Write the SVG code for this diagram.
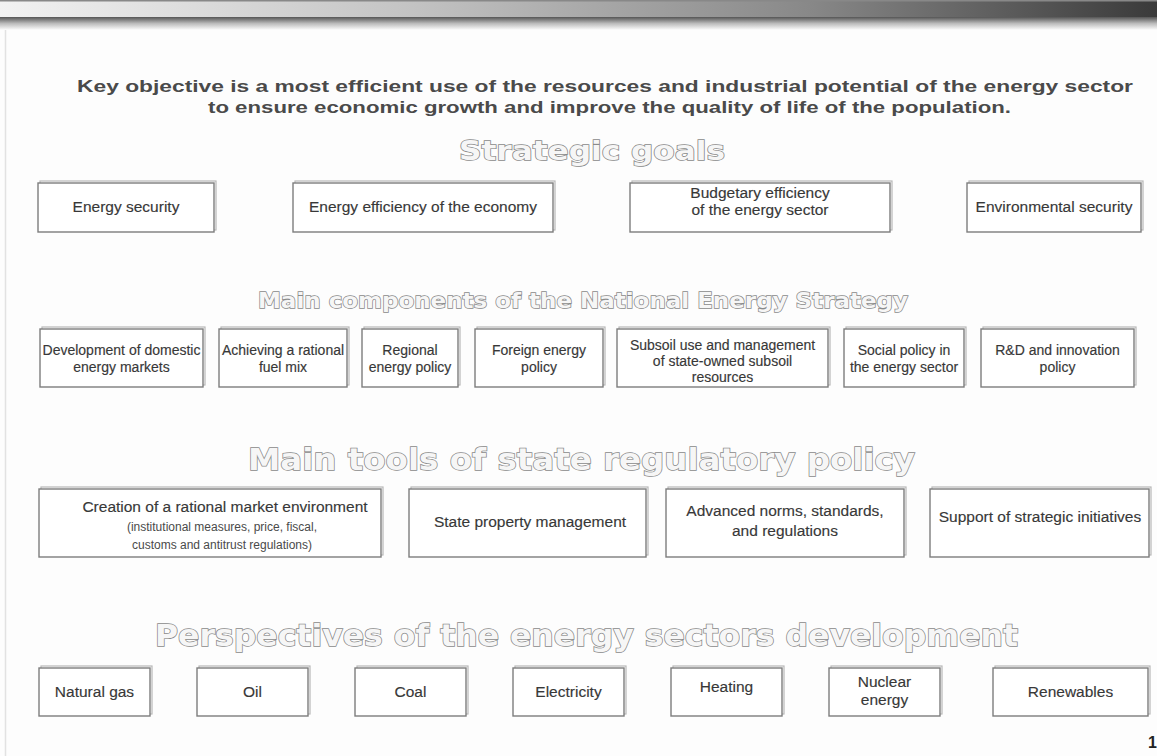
<svg xmlns="http://www.w3.org/2000/svg" width="1157" height="756" viewBox="0 0 1157 756">
<defs>
<linearGradient id="bar" x1="0" y1="0" x2="1" y2="0">
<stop offset="0" stop-color="#f2f2f2"/>
<stop offset="0.35" stop-color="#c4c4c4"/>
<stop offset="0.7" stop-color="#888"/>
<stop offset="1" stop-color="#3a3a3a"/>
</linearGradient>
<linearGradient id="shadow" x1="0" y1="0" x2="0" y2="1">
<stop offset="0" stop-color="#555"/>
<stop offset="0.5" stop-color="#bbb"/>
<stop offset="1" stop-color="#fdfdfd"/>
</linearGradient>
<style>
.box{fill:#fff;stroke:#7d7d7d;stroke-width:1.4}
.sh{fill:none;stroke:#b8b8b8;stroke-width:1.2}
.t{font-family:"Liberation Sans",Arial,sans-serif;font-size:15.5px;fill:#383838;stroke:#383838;stroke-width:0.15;text-anchor:middle}
.t14{font-family:"Liberation Sans",Arial,sans-serif;font-size:14px;fill:#383838;stroke:#383838;stroke-width:0.15;text-anchor:middle}
.ts{font-family:"Liberation Sans",Arial,sans-serif;font-size:12px;fill:#4a4a4a;text-anchor:middle}
.title{font-family:"Liberation Sans",Arial,sans-serif;font-weight:bold;font-size:17px;fill:#4a4a4a}
.hd{font-family:"DejaVu Sans",sans-serif;font-weight:bold;fill:#f6f6f6;stroke:#8a8a8a;stroke-width:1.5;paint-order:stroke}
</style>
</defs>
<rect width="1157" height="756" fill="#fdfdfd"/>
<rect x="0" y="0" width="1157" height="17" fill="url(#bar)"/>
<rect x="0" y="0" width="1157" height="1.5" fill="#888"/>
<rect x="0" y="17" width="1157" height="13" fill="url(#shadow)"/>
<line x1="5.5" y1="30" x2="5.5" y2="756" stroke="#e2e2e2" stroke-width="1.5"/>

<g id="title">
<text class="title" x="77" y="92" textLength="1056" lengthAdjust="spacingAndGlyphs">Key objective is a most efficient use of the resources and industrial potential of the energy sector</text>
<text class="title" x="208" y="113" textLength="803" lengthAdjust="spacingAndGlyphs">to ensure economic growth and improve the quality of life of the population.</text>
</g>

<g id="heading-goals"><text class="hd" x="459" y="160" font-size="27" textLength="266" lengthAdjust="spacingAndGlyphs">Strategic goals</text></g>
<g id="heading-components"><text class="hd" x="258" y="308" font-size="22" textLength="650" lengthAdjust="spacingAndGlyphs">Main components of the National Energy Strategy</text></g>
<g id="heading-tools"><text class="hd" x="248" y="470" font-size="31" textLength="667" lengthAdjust="spacingAndGlyphs">Main tools of state regulatory policy</text></g>
<g id="heading-perspectives"><text class="hd" x="155" y="646" font-size="30" textLength="863" lengthAdjust="spacingAndGlyphs">Perspectives of the energy sectors development</text></g>

<!-- Strategic goals -->
<g id="goal-energy-security"><rect class="sh" x="40" y="181" width="176" height="49"/><rect class="box" x="38" y="183" width="176" height="49"/><text class="t" x="126" y="212">Energy security</text></g>
<g id="goal-energy-efficiency"><rect class="sh" x="295" y="181" width="260" height="49"/><rect class="box" x="293" y="183" width="260" height="49"/><text class="t" x="423" y="212">Energy efficiency of the economy</text></g>
<g id="goal-budgetary"><rect class="sh" x="632" y="181" width="260" height="49"/><rect class="box" x="630" y="183" width="260" height="49"/><text class="t" x="760" y="198">Budgetary efficiency</text><text class="t" x="760" y="215">of the energy sector</text></g>
<g id="goal-environmental"><rect class="sh" x="969" y="181" width="174" height="49"/><rect class="box" x="967" y="183" width="174" height="49"/><text class="t" x="1054" y="212">Environmental security</text></g>

<!-- Components -->
<g id="comp-markets"><rect class="sh" x="42" y="327" width="163" height="58"/><rect class="box" x="40" y="329" width="163" height="58"/><text class="t14" x="121.5" y="355">Development of domestic</text><text class="t14" x="121.5" y="372">energy markets</text></g>
<g id="comp-fuel-mix"><rect class="sh" x="221" y="327" width="128" height="58"/><rect class="box" x="219" y="329" width="128" height="58"/><text class="t14" x="283" y="355">Achieving a rational</text><text class="t14" x="283" y="372">fuel mix</text></g>
<g id="comp-regional"><rect class="sh" x="364" y="327" width="96" height="58"/><rect class="box" x="362" y="329" width="96" height="58"/><text class="t14" x="410" y="355">Regional</text><text class="t14" x="410" y="372">energy policy</text></g>
<g id="comp-foreign"><rect class="sh" x="477" y="327" width="128" height="58"/><rect class="box" x="475" y="329" width="128" height="58"/><text class="t14" x="539" y="355">Foreign energy</text><text class="t14" x="539" y="372">policy</text></g>
<g id="comp-subsoil"><rect class="sh" x="619" y="327" width="211" height="58"/><rect class="box" x="617" y="329" width="211" height="58"/><text class="t14" x="722.5" y="350">Subsoil use and management</text><text class="t14" x="722.5" y="366">of state-owned subsoil</text><text class="t14" x="722.5" y="382">resources</text></g>
<g id="comp-social"><rect class="sh" x="846" y="327" width="120" height="58"/><rect class="box" x="844" y="329" width="120" height="58"/><text class="t14" x="904" y="355">Social policy in</text><text class="t14" x="904" y="372">the energy sector</text></g>
<g id="comp-rnd"><rect class="sh" x="983" y="327" width="153" height="58"/><rect class="box" x="981" y="329" width="153" height="58"/><text class="t14" x="1057.5" y="355">R&amp;D and innovation</text><text class="t14" x="1057.5" y="372">policy</text></g>

<!-- Tools -->
<g id="tool-market"><rect class="sh" x="41" y="487" width="342" height="68"/><rect class="box" x="39" y="489" width="342" height="68"/><text class="t" x="225" y="512" font-size="15">Creation of a rational market environment</text><text class="ts" x="222" y="531">(institutional measures, price, fiscal,</text><text class="ts" x="222" y="549">customs and antitrust regulations)</text></g>
<g id="tool-property"><rect class="sh" x="411" y="487" width="237" height="68"/><rect class="box" x="409" y="489" width="237" height="68"/><text class="t" x="530" y="527">State property management</text></g>
<g id="tool-norms"><rect class="sh" x="668" y="487" width="238" height="68"/><rect class="box" x="666" y="489" width="238" height="68"/><text class="t" x="785" y="516">Advanced norms, standards,</text><text class="t" x="785" y="536">and regulations</text></g>
<g id="tool-initiatives"><rect class="sh" x="932" y="487" width="219" height="68"/><rect class="box" x="930" y="489" width="219" height="68"/><text class="t" x="1040" y="522">Support of strategic initiatives</text></g>

<!-- Sectors -->
<g id="sector-gas"><rect class="sh" x="41" y="666" width="111" height="48"/><rect class="box" x="39" y="668" width="111" height="48"/><text class="t" x="94.5" y="697">Natural gas</text></g>
<g id="sector-oil"><rect class="sh" x="199" y="666" width="111" height="48"/><rect class="box" x="197" y="668" width="111" height="48"/><text class="t" x="252.5" y="697">Oil</text></g>
<g id="sector-coal"><rect class="sh" x="357" y="666" width="111" height="48"/><rect class="box" x="355" y="668" width="111" height="48"/><text class="t" x="410.5" y="697">Coal</text></g>
<g id="sector-electricity"><rect class="sh" x="515" y="666" width="111" height="48"/><rect class="box" x="513" y="668" width="111" height="48"/><text class="t" x="568.5" y="697">Electricity</text></g>
<g id="sector-heating"><rect class="sh" x="673" y="666" width="111" height="48"/><rect class="box" x="671" y="668" width="111" height="48"/><text class="t" x="726.5" y="692">Heating</text></g>
<g id="sector-nuclear"><rect class="sh" x="831" y="666" width="111" height="48"/><rect class="box" x="829" y="668" width="111" height="48"/><text class="t" x="884.5" y="687">Nuclear</text><text class="t" x="884.5" y="705">energy</text></g>
<g id="sector-renewables"><rect class="sh" x="995" y="666" width="155" height="48"/><rect class="box" x="993" y="668" width="155" height="48"/><text class="t" x="1070.5" y="697">Renewables</text></g>

<g id="connectors"/>
<text x="1148" y="748" font-family="Liberation Sans,Arial,sans-serif" font-weight="bold" font-size="16" fill="#222">1</text>
</svg>
